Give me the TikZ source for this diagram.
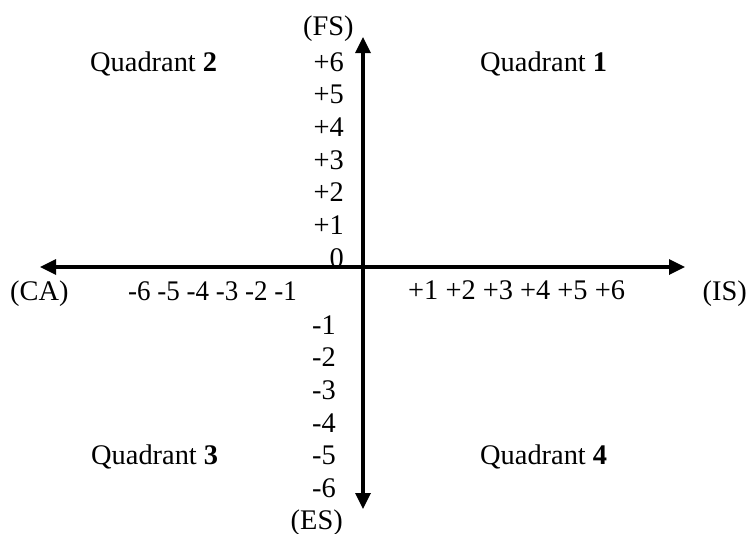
\documentclass[tikz,border=0pt]{standalone}
\usepackage{fontspec}
\setmainfont{Liberation Serif}
\usetikzlibrary{arrows.meta}
\begin{document}
\begin{tikzpicture}[x=1pt,y=-1pt,
  lbl/.style={inner sep=0pt, font=\fontsize{28.4}{32.7}\selectfont},
  tip/.tip={Triangle[length=16pt,width=15pt]},
  axisline/.style={line width=3.3pt, black}]
\useasboundingbox (0,0) rectangle (747,533);
\coordinate (top) at (363,37);
\coordinate (bottom) at (363,509);
\coordinate (left) at (40,267);
\coordinate (right) at (685,267);
\draw[axisline, tip-tip] (left) -- (right);
\draw[axisline, tip-tip] (bottom) -- (top);
% axis names
\node[lbl, anchor=base west] (fs) at (303,35) {(FS)};
\node[lbl, anchor=base east] (es) at (343,529) {(ES)};
\node[lbl, anchor=base west] (ca) at (10,300) {(CA)};
\node[lbl, anchor=base east] (is) at (747,300) {(IS)};
% vertical scale
\foreach \v [count=\i from 0] in {+6,+5,+4,+3,+2,+1,0}
  \node[lbl, anchor=base east] (p\i) at (344,71+32.7*\i) {\v};
\foreach \v [count=\i from 0] in {-1,-2,-3,-4,-5,-6}
  \node[lbl, anchor=base east] (n\i) at (336,334+32.7*\i) {\v};
% horizontal scale
\node[lbl, anchor=base west] (hneg) at (128,300) {\scalebox{0.95}[1]{-6 -5 -4 -3 -2 -1}};
\node[lbl, anchor=base west] (hpos) at (408,299) {+1 +2 +3 +4 +5 +6};
% quadrants
\node[lbl, anchor=base west] (q2) at (90,71) {Quadrant \textbf{2}};
\node[lbl, anchor=base west] (q1) at (480,71) {Quadrant \textbf{1}};
\node[lbl, anchor=base west] (q3) at (91,464) {Quadrant \textbf{3}};
\node[lbl, anchor=base west] (q4) at (480,464) {Quadrant \textbf{4}};
\end{tikzpicture}
\end{document}
